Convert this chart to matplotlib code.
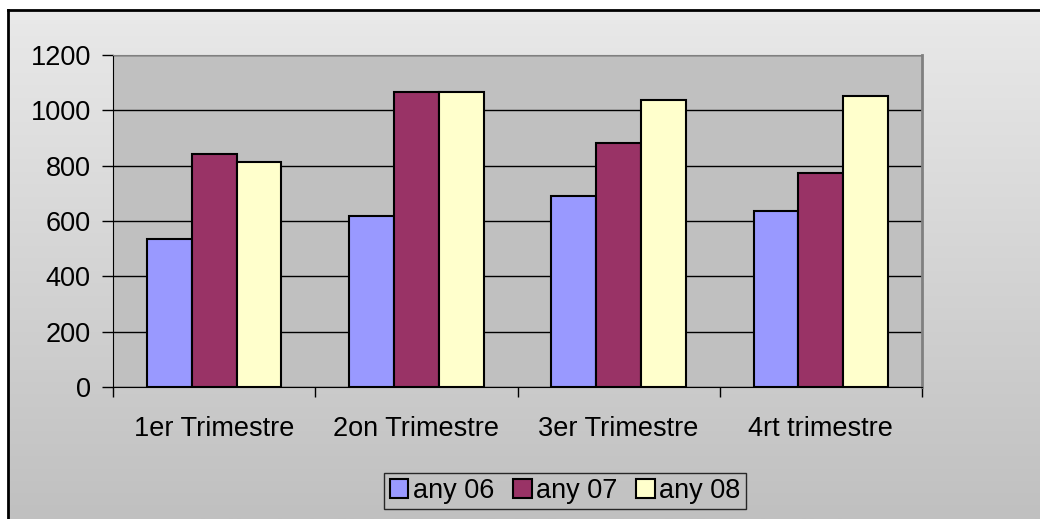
import numpy as np
import matplotlib
matplotlib.use("Agg")
import matplotlib.pyplot as plt

plt.rcParams['font.family'] = ['Liberation Sans', 'DejaVu Sans']

categories = ['1er Trimestre', '2on Trimestre', '3er Trimestre', '4rt trimestre']
series = ['any 06', 'any 07', 'any 08']
any06 = [535, 618, 690, 636]
any07 = [841, 1066, 882, 775]
any08 = [814, 1066, 1038, 1052]
colors = ['#9999FF', '#993366', '#FFFFCC']

W, H = 1040, 519
fig = plt.figure(figsize=(W / 100, H / 100), dpi=100)
fig.patch.set_facecolor('white')

# chart area: vertical grey gradient with black border on left/top
bg = fig.add_axes([8 / W, 0, 1 - 8 / W, 1 - 10 / H])
grad = np.linspace(0, 1, 256).reshape(-1, 1)
bg.imshow(grad, aspect='auto', cmap=matplotlib.colors.LinearSegmentedColormap.from_list(
    'g', ['#E9E9E9', '#C0C0C0']), extent=[0, 1, 0, 1], origin='upper')
bg.set_xlim(0, 1)
bg.set_ylim(0, 1)
bg.set_xticks([])
bg.set_yticks([])
for side in ['right', 'bottom']:
    bg.spines[side].set_visible(False)
for side in ['left', 'top']:
    bg.spines[side].set_linewidth(2)
    bg.spines[side].set_color('black')

ax = fig.add_axes([113 / W, 1 - 387 / H, 809 / W, 332 / H])
ax.set_facecolor('#C0C0C0')

x = np.arange(len(categories))
bw = 0.222
for i, (vals, c) in enumerate(zip([any06, any07, any08], colors)):
    ax.bar(x + (i - 1) * bw, vals, width=bw, color=c, edgecolor='black',
           linewidth=1.5, label=series[i], zorder=3)

fs = 19.5
ax.set_xlim(-0.5, len(categories) - 0.5)
ax.set_ylim(0, 1200)
ax.set_yticks(range(0, 1201, 200))
ax.yaxis.grid(True, color='black', linewidth=1, zorder=1)
ax.set_axisbelow(True)
ax.tick_params(axis='y', direction='out', length=8, width=1, pad=8,
               labelsize=fs, color='black')

ax.set_xticks(np.arange(-0.5, len(categories), 1.0))
ax.set_xticklabels([])
ax.tick_params(axis='x', which='major', direction='out', length=7, width=1)
ax.set_xticks(x, minor=True)
ax.set_xticklabels(categories, minor=True)
ax.tick_params(axis='x', which='minor', length=0, pad=21, labelsize=fs)

ax.spines['left'].set_color('black')
ax.spines['bottom'].set_color('black')
ax.spines['top'].set_color('#808080')
ax.spines['right'].set_color('#808080')
ax.spines['right'].set_linewidth(2)

leg = fig.legend(loc='center', bbox_to_anchor=(565 / W, 1 - 491 / H), ncol=3,
                 fontsize=fs, frameon=True, fancybox=False, handlelength=0.7,
                 handleheight=0.7, handletextpad=0.15, columnspacing=0.7,
                 borderpad=0.2, borderaxespad=0)
leg.get_frame().set_edgecolor('black')
leg.get_frame().set_facecolor('#C3C3C3')
leg.get_frame().set_linewidth(1)

fig.savefig('out.png', dpi=100)
